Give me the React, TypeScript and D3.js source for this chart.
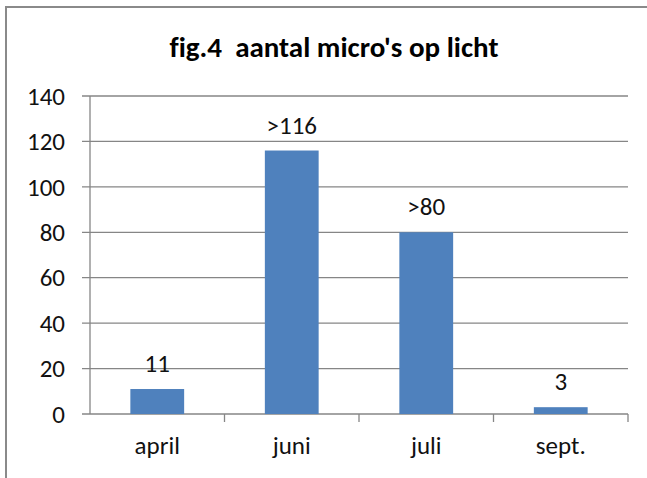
import React from "react";
import { scaleBand, scaleLinear } from "d3";

const width = 647;
const height = 478;

const months = ["april", "juni", "juli", "sept."];
const counts = [11, 116, 80, 3];
const countLabels = ["11", ">116", ">80", "3"];
const yTicks = [0, 20, 40, 60, 80, 100, 120, 140];

const margin = { top: 96, right: 19, bottom: 64, left: 90 };
const innerWidth = width - margin.left - margin.right;
const innerHeight = height - margin.top - margin.bottom;

const font = "Carlito, Calibri, 'Liberation Sans Narrow', 'Open Sans', sans-serif";

export default function App() {
  const xScale = scaleBand<string>()
    .domain(months)
    .range([0, innerWidth])
    .paddingInner(0.6)
    .paddingOuter(0.3);

  const yScale = scaleLinear().domain([0, 140]).range([innerHeight, 0]);

  // band edges for the category tick marks
  const step = innerWidth / months.length;

  return (
    <svg
      width={width}
      height={height}
      style={{
        position: "absolute",
        left: 0,
        top: 0,
        background: "#fff",
        fontFamily: font,
        fontVariantLigatures: "none",
      }}
    >
      {/* frame */}
      <rect x={6} y={7} width={700} height={500} fill="none" stroke="#8a8a8a" strokeWidth={2} />

      <text
        x={334}
        y={57}
        textAnchor="middle"
        fontSize={29}
        fontWeight="bold"
        fill="#000"
        style={{ whiteSpace: "pre" }}
      >
        {"fig.4  aantal micro's op licht"}
      </text>

      <g transform={`translate(${margin.left}, ${margin.top})`}>
        {/*Y grid + labels*/}
        {yTicks.map((t) => (
          <g key={t} transform={`translate(0, ${yScale(t)})`}>
            <line x1={-8} x2={innerWidth} stroke="#868686" strokeWidth={1.3} />
            <text x={-25} dy=".35em" textAnchor="end" fontSize={25} fill="#111">
              {t}
            </text>
          </g>
        ))}

        {/*Y axis*/}
        <line y1={0} y2={innerHeight} stroke="#868686" strokeWidth={1.3} />

        {/*X ticks*/}
        {months.map((m, i) => (
          <line
            key={m}
            x1={step * (i + 1)}
            x2={step * (i + 1)}
            y1={innerHeight}
            y2={innerHeight + 8}
            stroke="#868686"
            strokeWidth={1.3}
          />
        ))}

        {/*bars*/}
        {months.map((m, i) => (
          <rect
            key={m}
            x={xScale(m)}
            y={yScale(counts[i])}
            width={xScale.bandwidth()}
            height={innerHeight - yScale(counts[i])}
            fill="#4f81bd"
          />
        ))}

        {/*value labels*/}
        {months.map((m, i) => (
          <text
            key={m}
            x={(xScale(m) ?? 0) + xScale.bandwidth() / 2}
            y={yScale(counts[i]) - 17}
            textAnchor="middle"
            fontSize={25}
            fill="#111"
          >
            {countLabels[i]}
          </text>
        ))}

        {/*category labels*/}
        {months.map((m) => (
          <text
            key={m}
            x={(xScale(m) ?? 0) + xScale.bandwidth() / 2}
            y={innerHeight + 40}
            textAnchor="middle"
            fontSize={25}
            fill="#111"
          >
            {m}
          </text>
        ))}
      </g>
    </svg>
  );
}
